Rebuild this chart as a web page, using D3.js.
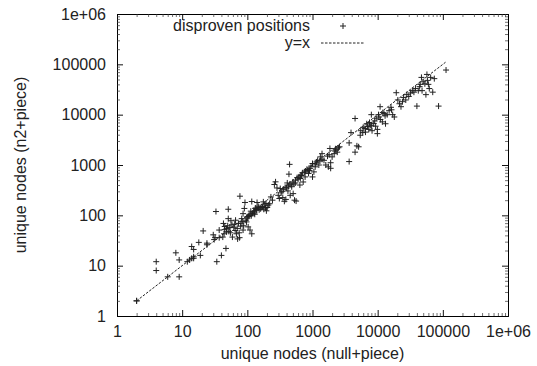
<!DOCTYPE html>
<html><head><meta charset="utf-8">
<script src="https://cdn.jsdelivr.net/npm/d3@7/dist/d3.min.js"></script>
<style>body{margin:0;background:#fff}svg{display:block}text{font-family:"Liberation Sans",Arial,sans-serif;fill:#222}</style>
</head><body><svg id="c" width="537" height="366"></svg>
<script>
// ---- data ----
const nullPiece = [2,2,4,4,6,8,9,9,12,13,14,15,15,14,15,19,21,18,24,24,30,31,33,34,40,37,32,43,47,45,44,48,51,51,42,37,54,56,59,64,66,68,71,76,77,73,79,86,90,92,86,82,97,103,110,117,99,106,113,117,132,141,146,128,137,152,168,179,196,202,176,193,243,230,271,260,285,298,310,330,350,370,410,435,445,420,390,455,480,505,530,560,545,600,640,660,720,770,820,870,920,1000,1050,1000,1100,1200,1320,1400,1250,1500,1600,1750,1900,2000,2150,1850,2250,2400,2600,1900,3650,3650,4500,4500,4800,5100,5400,3900,5900,6400,6800,7300,7700,8200,8700,9300,8000,9900,9900,10300,10900,11800,13200,12500,14000,16300,17000,18000,19300,20400,21600,22800,24000,27000,30000,34000,36000,40000,44000,47000,53000,57000,62000,65000,70000,74000,86000,112000,55000,48000,
  45,48,50,52,55,58,62,65,70,75,80,85,88,95,100,105,110,115,120,125,130,135,140,150,160,170,185,190,210,220,
  320,340,360,380,400,430,450,470,500,520,550,580,620,650,680,700,750,780,850,900,950,1100,1150,1300,1400,1700,1800,2200,2300,2500,
  5500,6000,6500,7000,7500,8000,9000,9500,10500,11000,12000,13000,15000,16000,25000,28000,32000,38000,42000,45000,50000,58000,60000];
const n2Piece = [2,2,12,8,6,18,13,6,12,13,14,14,15,24,21,16,49,29,26,28,41,33,119,12,16,36,36,69,22,52,43,47,132,86,37,51,57,78,37,67,80,43,34,36,240,69,61,51,137,180,108,86,74,59,51,43,93,100,121,188,137,180,152,111,126,129,143,132,123,143,185,172,200,232,463,410,350,250,216,280,225,190,440,658,1030,305,207,250,370,270,200,192,440,525,400,630,460,580,820,680,860,1070,730,580,920,1240,1450,1680,1000,1240,1000,920,1110,1450,1680,2130,2100,1800,2300,860,1170,2750,8400,1800,2400,2300,3900,4400,4400,5300,6600,5100,6200,4800,6700,5900,10000,5100,4200,10000,14400,7200,6600,10600,10000,12500,10000,9000,27300,19600,16500,14400,18100,19600,23000,30000,28000,14800,36000,55000,41000,63000,33000,55000,28000,52000,14800,77000,25000,30000,
  60,55,62,48,45,65,58,50,55,45,70,75,62,80,88,95,105,98,110,118,105,140,130,145,135,150,160,140,160,170,
  340,300,330,360,350,380,420,400,460,420,500,560,580,540,620,700,720,760,800,780,950,1050,1150,1200,1300,1500,1600,1900,2000,2200,
  4800,5600,4500,5800,7000,6000,7500,8500,9000,8000,11000,9500,12000,14000,22000,25000,27000,33000,30000,40000,45000,48000,40000];
const majorTicks = [1,10,100,1000,10000,100000,1000000];
const tickLabels = ["1","10","100","1000","10000","100000","1e+06"];
const minorTicks = [];
for (let e = 0; e < 6; e++) for (let k = 2; k <= 9; k++) minorTicks.push(k * Math.pow(10, e));
const lineRange = [2, 110000];
const xTitle = "unique nodes (null+piece)";
const yTitle = "unique nodes (n2+piece)";
const legendLabels = ["disproven positions", "y=x"];

// ---- layout ----
const L = 117, R = 508, T = 14, B = 316;
const svg = d3.select("#c");
const x = d3.scaleLog().domain([1, 1e6]).range([L, R]);
const y = d3.scaleLog().domain([1, 1e6]).range([B, T]);
const fmt = d => tickLabels[majorTicks.indexOf(d)];
const FS = 16;

function axisG(axis, tr) {
  const g = svg.append("g").attr("transform", tr).call(axis);
  g.selectAll("path.domain").attr("stroke", "#000").attr("stroke-width", 1);
  g.selectAll(".tick line").attr("stroke", "#111");
  g.selectAll("text").attr("fill", "#222").style("font-size", FS + "px").attr("font-family", null);
  return g;
}
// major ticks (inward)
axisG(d3.axisBottom(x).tickValues(majorTicks).tickFormat(fmt).tickSizeInner(-6).tickSizeOuter(0).tickPadding(10), `translate(0,${B})`);
axisG(d3.axisLeft(y).tickValues(majorTicks).tickFormat(fmt).tickSizeInner(-6).tickSizeOuter(0).tickPadding(11), `translate(${L},0)`);
axisG(d3.axisTop(x).tickValues(majorTicks).tickFormat("").tickSizeInner(-6).tickSizeOuter(0), `translate(0,${T})`);
axisG(d3.axisRight(y).tickValues(majorTicks).tickFormat("").tickSizeInner(-6).tickSizeOuter(0), `translate(${R},0)`);
// minor ticks
const minorStyle = g => g.selectAll(".tick line").attr("stroke-width", 0.7).attr("stroke", "#333");
minorStyle(axisG(d3.axisBottom(x).tickValues(minorTicks).tickFormat("").tickSizeInner(-3).tickSizeOuter(0), `translate(0,${B})`));
minorStyle(axisG(d3.axisLeft(y).tickValues(minorTicks).tickFormat("").tickSizeInner(-3).tickSizeOuter(0), `translate(${L},0)`));
minorStyle(axisG(d3.axisTop(x).tickValues(minorTicks).tickFormat("").tickSizeInner(-3).tickSizeOuter(0), `translate(0,${T})`));
minorStyle(axisG(d3.axisRight(y).tickValues(minorTicks).tickFormat("").tickSizeInner(-3).tickSizeOuter(0), `translate(${R},0)`));

// axis titles
svg.append("text").attr("x", (L + R) / 2).attr("y", 359).attr("text-anchor", "middle").style("font-size", FS + "px").text(xTitle);
svg.append("text").attr("transform", `translate(26,${(T + B) / 2}) rotate(-90)`).attr("text-anchor", "middle").style("font-size", FS + "px").text(yTitle);

// y=x line
svg.append("line").attr("x1", x(lineRange[0])).attr("y1", y(lineRange[0])).attr("x2", x(lineRange[1])).attr("y2", y(lineRange[1]))
  .attr("stroke", "#222").attr("stroke-width", 1).attr("stroke-dasharray", "2.5,1.5");

// points
const plus = "M-3,0H3M0,-3V3";
svg.append("g").selectAll("path").data(nullPiece.map((v, i) => [v, n2Piece[i]])).join("path")
  .attr("transform", d => `translate(${x(d[0])},${y(d[1])})`).attr("d", plus)
  .attr("stroke", "#222").attr("stroke-width", 1).attr("fill", "none");

// legend
const lg = svg.append("g");
lg.append("text").attr("x", 310).attr("y", 31).attr("text-anchor", "end").style("font-size", FS + "px").text(legendLabels[0]);
lg.append("path").attr("transform", "translate(343,26)").attr("d", plus).attr("stroke", "#222").attr("stroke-width", 1);
lg.append("text").attr("x", 310).attr("y", 48).attr("text-anchor", "end").style("font-size", FS + "px").text(legendLabels[1]);
lg.append("line").attr("x1", 321).attr("x2", 364).attr("y1", 43).attr("y2", 43).attr("stroke", "#222").attr("stroke-width", 1).attr("stroke-dasharray", "2.5,1.5");
</script></body></html>
